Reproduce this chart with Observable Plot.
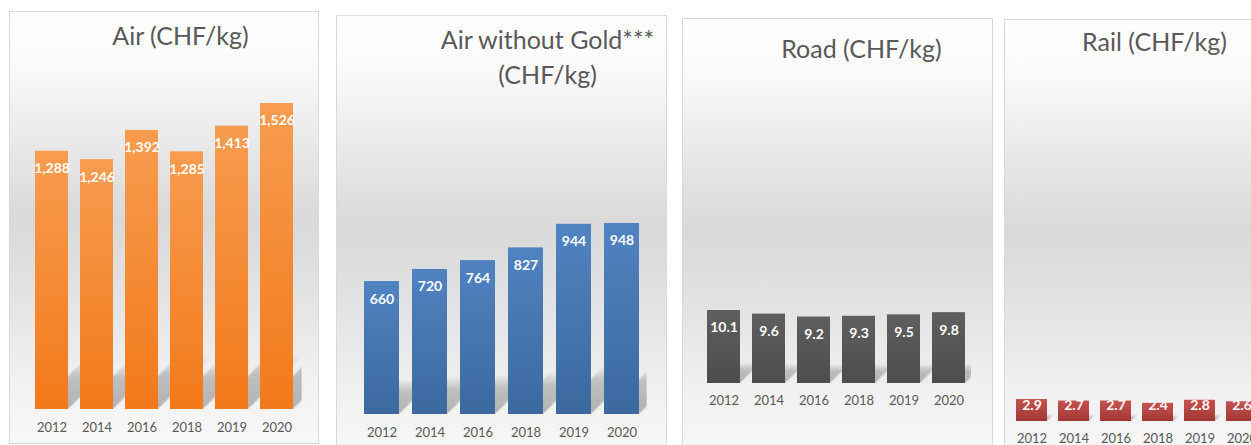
<!DOCTYPE html>
<html>
<head>
<meta charset="utf-8">
<script src="https://cdn.jsdelivr.net/npm/d3@7"></script>
<script src="https://cdn.jsdelivr.net/npm/@observablehq/plot@0.6"></script>
<style>
  html, body { margin: 0; padding: 0; background: #ffffff; width: 1251px; height: 445px; overflow: hidden; }
  #root { position: relative; width: 1251px; height: 445px; overflow: hidden; }
  .panel {
    position: absolute; box-sizing: border-box; border: 1px solid #d9d9d9;
    background: linear-gradient(to bottom, #fefefe 0%, #fbfbfb 11%, #e9e9e9 30%, #d9d9d9 48%, #e3e3e3 66%, #f0f0f0 84%, #f8f8f8 100%);
  }
  .panel svg { position: absolute; left: -1px; top: -1px; max-width: none !important; }
</style>
</head>
<body>
<div id="root"></div>
<script>
// ---- data ----
const years = ["2012", "2014", "2016", "2018", "2019", "2020"];
const airValues = [1288, 1246, 1392, 1285, 1413, 1526];
const airNoGoldValues = [660, 720, 764, 827, 944, 948];
const roadValues = [10.1, 9.6, 9.2, 9.3, 9.5, 9.8];
const railValues = [2.9, 2.7, 2.7, 2.4, 2.8, 2.6];
const titles = ["Air (CHF/kg)", "Air without Gold***\n(CHF/kg)", "Road (CHF/kg)", "Rail (CHF/kg)"];

// ---- presentation ----
const panelValues = [airValues, airNoGoldValues, roadValues, railValues];
const labelFormats = [d3.format(","), d3.format("d"), d3.format(".1f"), d3.format(".1f")];
const barColors = [["#f89c50", "#f2791a"], ["#5083c1", "#3c689f"], ["#5f5f5f", "#4c4c4c"], ["#c6524f", "#a13835"]];
const layout = [
  {left: 9, top: 11, width: 310, height: 433, firstBar: 33, step: 45.8, barWidth: 33.5, base: 409, maxTop: 103, titleX: 180, titleBase: 44, tickCenter: 427, labelDy: 17.5, fromBase: false, shadowRatio: 0.19},
  {left: 336, top: 15, width: 331, height: 445, firstBar: 363, step: 48.4, barWidth: 35, base: 414, maxTop: 223, titleX: 547, titleBase: 83, lineGap: 35, tickCenter: 432, labelDy: 17.5, fromBase: false, shadowRatio: 0.26},
  {left: 682, top: 18, width: 311, height: 440, firstBar: 706, step: 45.2, barWidth: 33, base: 383, maxTop: 310, titleX: 861, titleBase: 57, tickCenter: 400, labelDy: 17.5, fromBase: false, shadowRatio: 0.28},
  {left: 1004, top: 19, width: 300, height: 440, firstBar: 1016, step: 42, barWidth: 31, base: 421, maxTop: 399, titleX: 1154, titleBase: 50, tickCenter: 438, labelDy: -16, fromBase: true, shadowRatio: 0.3}
];
const titleFont = 25;

const root = document.getElementById("root");

layout.forEach((L, i) => {
  const values = panelValues[i];
  const data = years.map((year, j) => ({year, value: values[j]}));
  const pI = 1 - L.barWidth / L.step;
  const r0 = L.firstBar - L.step * pI / 2 - L.left;
  const r1 = r0 + L.step * years.length;
  const mL = r0, mR = L.width - r1;
  const mT = L.maxTop - L.top;
  const mB = L.height - (L.base - L.top);
  const maxV = d3.max(values);
  const shadowFill = `url(#shadow-${i})`;

  const svg = Plot.plot({
    width: L.width,
    height: L.height,
    marginLeft: mL, marginRight: mR, marginTop: mT, marginBottom: mB,
    style: {background: "transparent", fontFamily: "Lato, sans-serif", fontSize: "13px", color: "#595959", overflow: "visible", maxWidth: "none"},
    x: {type: "band", domain: years, paddingInner: pI, paddingOuter: pI / 2, align: 0.5, tickSize: 0, tickPadding: L.tickCenter - L.base - 4.6, label: null},
    y: {domain: [0, maxV], axis: null},
    marks: [
      Plot.barY(data, {x: "year", y: d => d.value * L.shadowRatio, fill: shadowFill, clip: true}),
      Plot.barY(data, {x: "year", y: "value", fill: `url(#bar-${i})`}),
      Plot.text(data, {
        x: "year", y: L.fromBase ? () => 0 : "value",
        text: d => labelFormats[i](d.value),
        dy: L.labelDy, fill: "white", fontWeight: "bold", fontSize: 14, lineAnchor: "middle"
      }),
      Plot.text([titles[i]], {
        frameAnchor: "top-left", text: d => d,
        dx: L.titleX - L.left - mL, dy: L.titleBase - L.top - mT,
        textAnchor: "middle", lineAnchor: "bottom",
        fontSize: titleFont, fill: "#595959", lineHeight: (L.lineGap || 30) / titleFont
      })
    ]
  });

  const s = d3.select(svg);
  const defs = s.insert("defs", ":first-child");
  const bg = defs.append("linearGradient").attr("id", `bar-${i}`).attr("x1", 0).attr("y1", 0).attr("x2", 0).attr("y2", 1);
  bg.append("stop").attr("offset", "0%").attr("stop-color", barColors[i][0]);
  bg.append("stop").attr("offset", "100%").attr("stop-color", barColors[i][1]);
  const sg = defs.append("linearGradient").attr("id", `shadow-${i}`).attr("x1", 0).attr("y1", 0).attr("x2", 0).attr("y2", 1);
  sg.append("stop").attr("offset", "0%").attr("stop-color", "#707070").attr("stop-opacity", 0);
  sg.append("stop").attr("offset", "35%").attr("stop-color", "#707070").attr("stop-opacity", 0.38);
  sg.append("stop").attr("offset", "100%").attr("stop-color", "#707070").attr("stop-opacity", 0.5);
  defs.append("filter").attr("id", `blur-${i}`)
    .attr("x", "-50%").attr("y", "-50%").attr("width", "200%").attr("height", "200%")
    .append("feGaussianBlur").attr("stdDeviation", 1.2);

  const base = L.height - mB;
  // skew the shadow bars toward the upper right (perspective shadow)
  s.selectAll("g").filter(function () { return this.getAttribute("fill") === shadowFill; })
    .selectAll("rect")
    .attr("transform", `translate(0,${base}) skewX(-45) translate(0,${-base})`)
    .attr("filter", `url(#blur-${i})`);

  const panel = document.createElement("div");
  panel.className = "panel";
  panel.style.left = L.left + "px";
  panel.style.top = L.top + "px";
  panel.style.width = L.width + "px";
  panel.style.height = L.height + "px";
  panel.appendChild(svg);
  root.appendChild(panel);
});
</script>
</body>
</html>
